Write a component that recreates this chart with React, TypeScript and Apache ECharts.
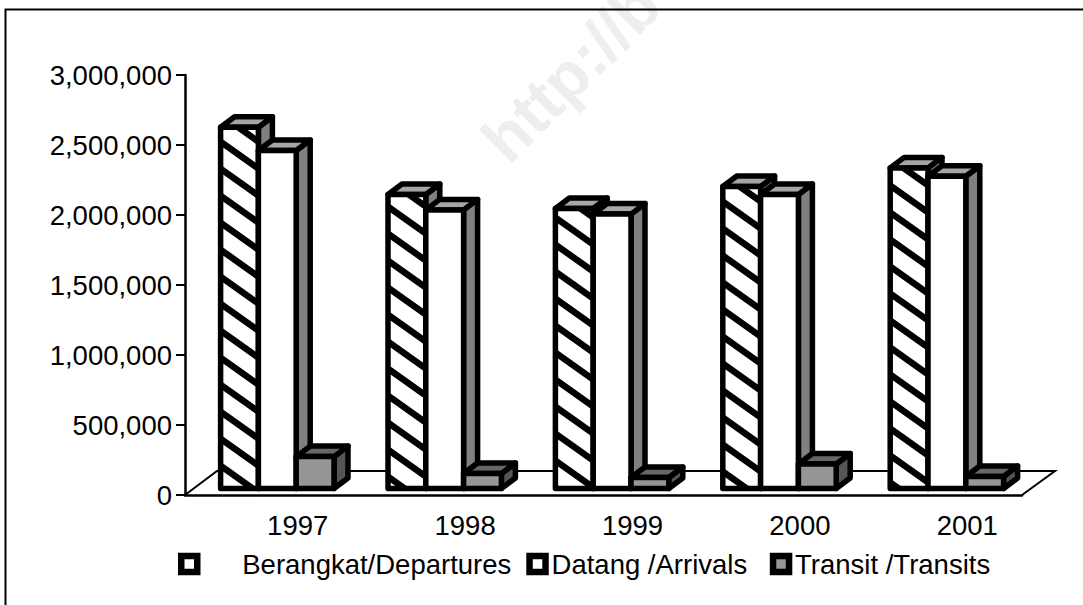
import React, { useEffect, useRef } from "react";
import * as echarts from "echarts";

const years = ["1997", "1998", "1999", "2000", "2001"];
const departures = [2580000, 2100000, 2000000, 2157000, 2290000];
const arrivals = [2414000, 1990000, 1960000, 2100000, 2230000];
const transits = [228000, 107000, 79000, 175000, 86000];
const seriesNames = ["Berangkat/Departures", "Datang /Arrivals", "Transit /Transits"];
const watermark = "http://b";

const FONT = '"Liberation Sans", Arial, sans-serif';
const BAR_W = 37.8;
const GROUP_SHIFT = 8.6;
const BASE_LIFT = 6.5;
const DEPTH_X = 14;
const DEPTH_Y = 10.5;
const STROKE = 5.5;

function hatchPattern() {
  const W = 38;
  const H = 27;
  const c = document.createElement("canvas");
  c.width = W;
  c.height = H;
  const g = c.getContext("2d")!;
  g.fillStyle = "#fff";
  g.fillRect(0, 0, W, H);
  g.strokeStyle = "#000";
  g.lineWidth = 6.5;
  for (const dy of [-H, 0, H]) {
    g.beginPath();
    g.moveTo(-W, dy - H + 12);
    g.lineTo(2 * W, dy + 2 * H + 12);
    g.stroke();
  }
  return { image: c, repeat: "repeat" };
}

function makeRender(idx: number, front: any, top: string, side: string) {
  return (params: any, api: any) => {
    const i = api.value(0);
    const base = api.coord([i, 0]);
    const head = api.coord([i, api.value(1)]);
    const x0 = base[0] + GROUP_SHIFT + BAR_W * (idx - 1.5);
    const x1 = x0 + BAR_W;
    const y0 = base[1] - BASE_LIFT;
    const y1 = head[1] - BASE_LIFT;
    const line = { stroke: "#000", lineWidth: STROKE, lineJoin: "round" };
    return {
      type: "group",
      children: [
        {
          type: "polygon",
          shape: { points: [[x1, y0], [x1 + DEPTH_X, y0 - DEPTH_Y], [x1 + DEPTH_X, y1 - DEPTH_Y], [x1, y1]] },
          style: { fill: side, ...line },
        },
        {
          type: "polygon",
          shape: { points: [[x0, y1], [x0 + DEPTH_X, y1 - DEPTH_Y], [x1 + DEPTH_X, y1 - DEPTH_Y], [x1, y1]] },
          style: { fill: top, ...line },
        },
        {
          type: "rect",
          shape: { x: x0, y: y1, width: BAR_W, height: y0 - y1 },
          style: { fill: front, ...line },
        },
      ],
    };
  };
}

export default function App() {
  const ref = useRef<HTMLDivElement>(null);
  useEffect(() => {
    const chart = echarts.init(ref.current!, undefined, { renderer: "svg" });
    const toData = (vals: number[]) => vals.map((v, i) => [i, v]);
    const mk = (name: string, vals: number[], idx: number, front: any, top: string, side: string) => ({
      type: "custom",
      name,
      data: toData(vals),
      encode: { x: 0, y: 1 },
      clip: false,
      z: 5,
      renderItem: makeRender(idx, front, top, side),
    });
    const legendIcon = (fill: string) => ({
      color: fill,
      borderColor: "#000",
      borderWidth: 6.5,
    });
    chart.setOption({
      animation: false,
      backgroundColor: "#fff",
      grid: { left: 185, right: 61, top: 75, bottom: 110 },
      xAxis: {
        type: "category",
        data: years,
        axisLine: { lineStyle: { color: "#000", width: 2.5 } },
        axisTick: { length: 10, lineStyle: { color: "#000", width: 2 } },
        axisLabel: { color: "#000", fontFamily: FONT, fontSize: 27.5, margin: 16, padding: [0, 0, 0, 58], hideOverlap: false },
      },
      yAxis: {
        type: "value",
        min: 0,
        max: 3000000,
        interval: 500000,
        axisLine: { show: true, lineStyle: { color: "#000", width: 2.5 } },
        axisTick: { show: true, length: 9, lineStyle: { color: "#000", width: 2 } },
        splitLine: { show: false },
        axisLabel: {
          color: "#000",
          fontFamily: FONT,
          fontSize: 27.5,
          margin: 13,
          formatter: (v: number) => v.toLocaleString("en-US"),
        },
      },
      legend: {
        left: 173,
        top: 545,
        orient: "horizontal",
        itemWidth: 16,
        itemHeight: 16,
        itemGap: 15,
        formatter: (name: string) => (name === seriesNames[1] ? name + "\u00a0" : name),
        textStyle: { color: "#000", fontFamily: FONT, fontSize: 27.5 },
        data: [
          { name: seriesNames[0], icon: "rect", itemStyle: legendIcon("#fff"), textStyle: { padding: [0, 0, 0, 40] } },
          { name: seriesNames[1], icon: "rect", itemStyle: legendIcon("#fff"), textStyle: { padding: [0, 0, 0, 1] } },
          { name: seriesNames[2], icon: "rect", itemStyle: legendIcon("#969696"), textStyle: { padding: [0, 0, 0, 1] } },
        ],
      },
      graphic: [
        {
          type: "text",
          x: 516,
          y: 173,
          rotation: Math.PI / 4,
          silent: true,
          z: -10,
          style: { text: watermark, font: `bold 65px ${FONT}`, fill: "#eeeeee", align: "left", verticalAlign: "bottom" },
        },
        {
          type: "polyline",
          silent: true,
          shape: { points: [[5.5, 605], [5.5, 9.5], [1083, 9.5]] },
          style: { stroke: "#000", lineWidth: 2, fill: "none" },
        },
        {
          type: "polyline",
          silent: true,
          shape: { points: [[185, 495], [217, 471], [1055, 471], [1022, 495]] },
          style: { stroke: "#000", lineWidth: 2, fill: "none" },
        },
      ],
      series: [
        mk(seriesNames[0], departures, 0, hatchPattern(), "#a6a6a6", "#808080"),
        mk(seriesNames[1], arrivals, 1, "#fff", "#a6a6a6", "#808080"),
        mk(seriesNames[2], transits, 2, "#969696", "#666666", "#555555"),
      ],
    });
    return () => chart.dispose();
  }, []);
  return <div ref={ref} style={{ position: "fixed", left: 0, top: 0, width: 1083, height: 605 }} />;
}
